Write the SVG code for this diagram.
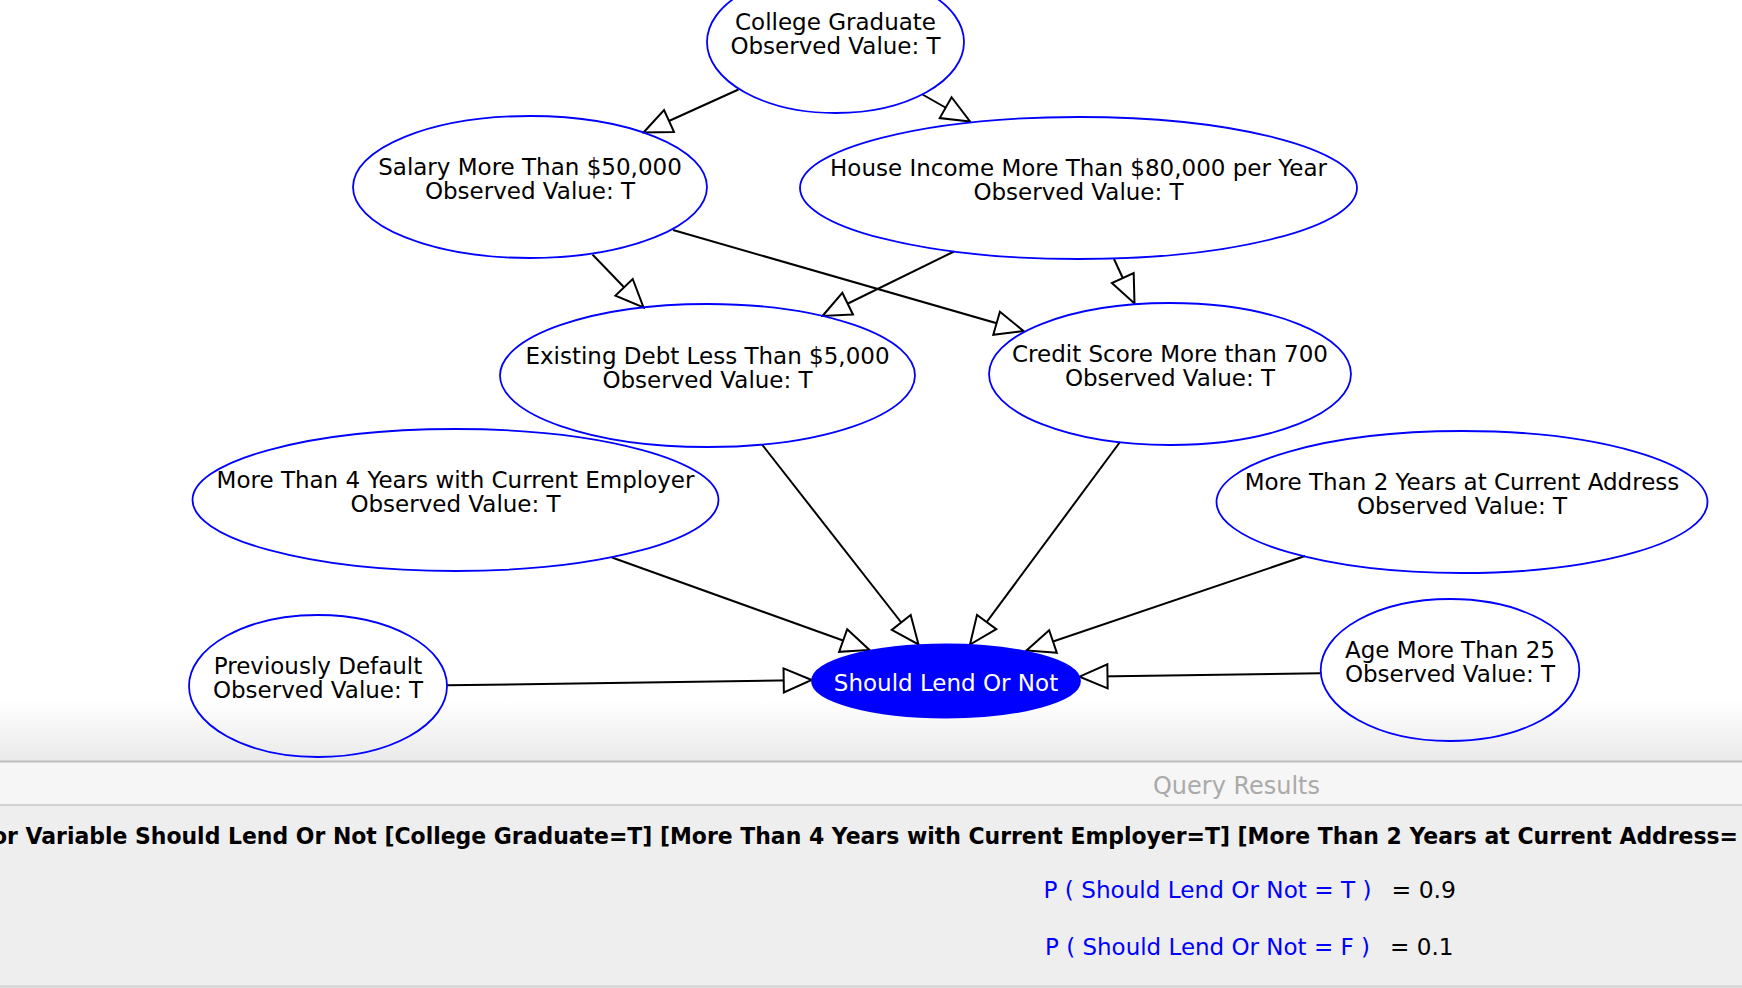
<svg xmlns="http://www.w3.org/2000/svg" width="1742" height="988" viewBox="0 0 1742 988">
<defs>
<style>
.node ellipse{fill:none;stroke:#0000ff;stroke-width:1.8}
.node text{font-family:"DejaVu Sans","Liberation Sans",sans-serif;font-size:23px;fill:#000;text-anchor:middle}
#n-should ellipse{fill:#0000ff}
#n-should text{fill:#fff}
.edges path{stroke:#000;stroke-width:2;fill:none;marker-end:url(#arr)}
.panel{font-family:"DejaVu Sans","Liberation Sans",sans-serif}
</style>
<marker id="arr" markerUnits="userSpaceOnUse" viewBox="-2 -2 32 28" markerWidth="32" markerHeight="28" refX="28" refY="12" orient="auto">
<path d="M0,0 L28,12 L0,24 Z" fill="#fff" stroke="#000" stroke-width="2" stroke-linejoin="miter"/>
</marker>
<linearGradient id="bg" x1="0" y1="0" x2="0" y2="1">
<stop offset="0" stop-color="#ffffff"/>
<stop offset="1" stop-color="#e9e9e9"/>
</linearGradient>
</defs>
<rect x="0" y="0" width="1742" height="988" fill="#fff"/>
<rect x="0" y="700" width="1742" height="62" fill="url(#bg)"/>

<g class="edges">
<path d="M738.5,89.5 L643.5,132.5"/>
<path d="M922.5,94.5 L970,121.5"/>
<path d="M592.5,254.5 L643.5,307.5"/>
<path d="M673,230 L1023.5,331"/>
<path d="M954,251.5 L822.5,316"/>
<path d="M1114,259 L1134.5,303.5"/>
<path d="M762,444.5 L918.5,644.5"/>
<path d="M1120,442 L970,644.5"/>
<path d="M612,557.5 L869.5,650"/>
<path d="M1305,556 L1026.5,650.5"/>
<path d="M447,685.3 L811.7,680"/>
<path d="M1320.5,673.3 L1079.5,676.7"/>
</g>

<g id="n-college" class="node">
<ellipse cx="835.5" cy="42" rx="128.5" ry="71"/>
<text x="835.5" y="30">College Graduate</text>
<text x="835.5" y="54">Observed Value: T</text>
</g>
<g id="n-salary" class="node">
<ellipse cx="530" cy="187" rx="177" ry="71"/>
<text x="530" y="175">Salary More Than $50,000</text>
<text x="530" y="199">Observed Value: T</text>
</g>
<g id="n-house" class="node">
<ellipse cx="1078.5" cy="188" rx="278.5" ry="71"/>
<text x="1078.5" y="176">House Income More Than $80,000 per Year</text>
<text x="1078.5" y="200">Observed Value: T</text>
</g>
<g id="n-debt" class="node">
<ellipse cx="707.5" cy="375.5" rx="207.5" ry="71.5"/>
<text x="707.5" y="363.5">Existing Debt Less Than $5,000</text>
<text x="707.5" y="387.5">Observed Value: T</text>
</g>
<g id="n-credit" class="node">
<ellipse cx="1170" cy="374" rx="181" ry="71"/>
<text x="1170" y="362">Credit Score More than 700</text>
<text x="1170" y="386">Observed Value: T</text>
</g>
<g id="n-employer" class="node">
<ellipse cx="455.5" cy="500" rx="263" ry="71"/>
<text x="455.5" y="488">More Than 4 Years with Current Employer</text>
<text x="455.5" y="512">Observed Value: T</text>
</g>
<g id="n-address" class="node">
<ellipse cx="1462" cy="502" rx="245.5" ry="71"/>
<text x="1462" y="490">More Than 2 Years at Current Address</text>
<text x="1462" y="514">Observed Value: T</text>
</g>
<g id="n-default" class="node">
<ellipse cx="318" cy="686" rx="129" ry="71"/>
<text x="318" y="674">Previously Default</text>
<text x="318" y="698">Observed Value: T</text>
</g>
<g id="n-age" class="node">
<ellipse cx="1450" cy="670" rx="129.3" ry="71"/>
<text x="1450" y="657.5">Age More Than 25</text>
<text x="1450" y="681.5">Observed Value: T</text>
</g>
<g id="n-should" class="node">
<ellipse cx="946" cy="681" rx="134" ry="36.5"/>
<text x="946" y="691">Should Lend Or Not</text>
</g>

<g id="panel" class="panel">
<rect x="0" y="762" width="1742" height="43" fill="#f6f6f6"/>
<rect x="0" y="805" width="1742" height="183" fill="#eeeeee"/>
<line x1="0" y1="761.5" x2="1742" y2="761.5" stroke="#bdbdbd" stroke-width="2"/>
<line x1="0" y1="805" x2="1742" y2="805" stroke="#d2d2d2" stroke-width="2"/>
<line x1="0" y1="986.5" x2="1742" y2="986.5" stroke="#d2d2d2" stroke-width="2"/>
<text x="1153" y="793.5" font-size="24" fill="#aaaaaa" textLength="167" lengthAdjust="spacingAndGlyphs">Query Results</text>
<text x="-8" y="843.5" font-size="22.5" font-weight="bold" fill="#000" textLength="1746" lengthAdjust="spacingAndGlyphs">or Variable Should Lend Or Not [College Graduate=T] [More Than 4 Years with Current Employer=T] [More Than 2 Years at Current Address=</text>
<text x="1043.5" y="897.5" font-size="23" fill="#0000ff" textLength="328" lengthAdjust="spacingAndGlyphs">P ( Should Lend Or Not = T )</text>
<text x="1391.5" y="897.5" font-size="23" fill="#000" textLength="64.5" lengthAdjust="spacingAndGlyphs">= 0.9</text>
<text x="1045" y="955" font-size="23" fill="#0000ff" textLength="325" lengthAdjust="spacingAndGlyphs">P ( Should Lend Or Not = F )</text>
<text x="1390" y="955" font-size="23" fill="#000" textLength="63.5" lengthAdjust="spacingAndGlyphs">= 0.1</text>
</g>
</svg>
